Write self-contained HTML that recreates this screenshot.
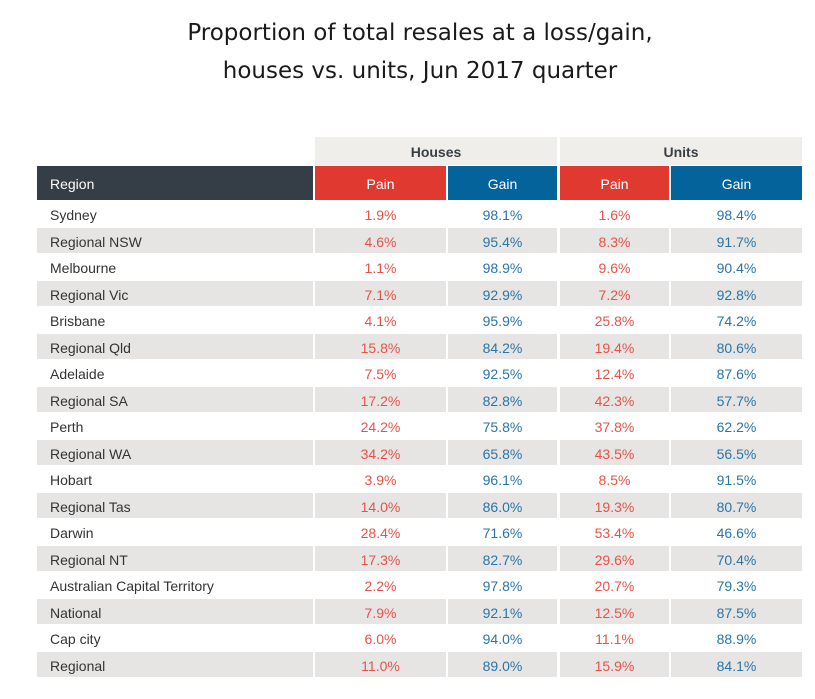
<!DOCTYPE html>
<html><head><meta charset="utf-8"><style>
body{margin:0;background:#fff;width:815px;height:699px;overflow:hidden;position:relative;font-family:"Liberation Sans",Arial,sans-serif}
#title{position:absolute;left:0;width:840px;top:14px;text-align:center;line-height:38px;color:#1a1a1a;font-family:"DejaVu Sans","Liberation Sans",sans-serif;font-size:23px}
.c{position:absolute;box-sizing:border-box;font-size:14px;display:flex;align-items:center;justify-content:center;padding-top:2px}
</style></head><body>
<div id="title">Proportion of total resales at a loss/gain,<br>houses vs. units, Jun 2017 quarter</div>
<div id="tbl"></div>
<script>
const regions=["Sydney","Regional NSW","Melbourne","Regional Vic","Brisbane","Regional Qld","Adelaide","Regional SA","Perth","Regional WA","Hobart","Regional Tas","Darwin","Regional NT","Australian Capital Territory","National","Cap city","Regional"];
const housePain=[1.9,4.6,1.1,7.1,4.1,15.8,7.5,17.2,24.2,34.2,3.9,14.0,28.4,17.3,2.2,7.9,6.0,11.0];
const houseGain=[98.1,95.4,98.9,92.9,95.9,84.2,92.5,82.8,75.8,65.8,96.1,86.0,71.6,82.7,97.8,92.1,94.0,89.0];
const unitPain=[1.6,8.3,9.6,7.2,25.8,19.4,12.4,42.3,37.8,43.5,8.5,19.3,53.4,29.6,20.7,12.5,11.1,15.9];
const unitGain=[98.4,91.7,90.4,92.8,74.2,80.6,87.6,57.7,62.2,56.5,91.5,80.7,46.6,70.4,79.3,87.5,88.9,84.1];
const T=document.getElementById('tbl');
const cols=[[37,276],[315,131],[448,109],[560,109],[671,131]];
function cell(x,y,w,h,txt,bg,col,bold,left,name){
  const d=document.createElement('div');d.className='c';
  
  
  d.style.left=x+'px';d.style.top=y+'px';d.style.width=w+'px';d.style.height=h+'px';
  if(bg)d.style.background=bg;d.style.color=col;if(bold)d.style.fontWeight='bold';
  if(left){d.style.justifyContent='flex-start';d.style.paddingLeft='13px';}
  d.textContent=txt;T.appendChild(d);return d;
}
cell(315,137,242,28,"Houses","#efeeeb","#3a3f45",true,false,'houses-group-header');
cell(560,137,242,28,"Units","#efeeeb","#3a3f45",true,false,'units-group-header');
cell(37,166,276,34,"Region","#353d46","#fff",false,true,'region-header');
cell(315,166,131,34,"Pain","#e03a30","#fff",false,false,'houses-pain-header');
cell(448,166,109,34,"Gain","#03639a","#fff",false,false,'houses-gain-header');
cell(560,166,109,34,"Pain","#e03a30","#fff",false,false,'units-pain-header');
cell(671,166,131,34,"Gain","#03639a","#fff",false,false,'units-gain-header');
const pitch=26.5,y0=201.5;
regions.forEach((r,i)=>{
  const y=y0+i*pitch,bg=i%2?"#e6e5e3":null,h=25;
  cell(cols[0][0],y,cols[0][1],h,r,bg,"#333",false,true,'region-label');
  cell(cols[1][0],y,cols[1][1],h,housePain[i].toFixed(1)+'%',bg,"#e5534a",false,false,'houses-pain-value');
  cell(cols[2][0],y,cols[2][1],h,houseGain[i].toFixed(1)+'%',bg,"#2a75a6",false,false,'houses-gain-value');
  cell(cols[3][0],y,cols[3][1],h,unitPain[i].toFixed(1)+'%',bg,"#e5534a",false,false,'units-pain-value');
  cell(cols[4][0],y,cols[4][1],h,unitGain[i].toFixed(1)+'%',bg,"#2a75a6",false,false,'units-gain-value');
});
</script>
</body></html>
